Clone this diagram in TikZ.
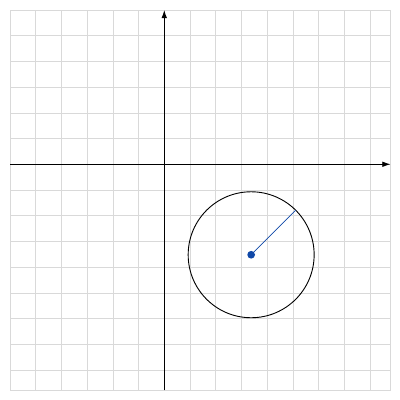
\documentclass[tikz,border=0pt]{standalone}
\usetikzlibrary{arrows.meta}

\definecolor{kreisblau}{RGB}{16,72,168}
\tikzset{
    gitter/.style = {draw=black!15, line width=0.6pt},
    achse/.style  = {line width=1pt, -{Latex[length=3.2mm, width=2.2mm]}},
}

\begin{document}
\begin{tikzpicture}
            \useasboundingbox (-6.39, -9.17) rectangle (9.17, 6.39);

            % Gitter
            \draw[gitter, step=1] (-6, -8.8) grid (8.8, 6);
            \draw[gitter] (-6, -8.8) rectangle (8.8, 6);

            % Kartesische Achsen
            \coordinate (xa) at (-6, 0);
            \coordinate (xe) at (8.8, 0);
            \coordinate (ya) at (0, -8.8);
            \coordinate (ye) at (0, 6);
            \draw[achse] (xa) -- (xe);
            \draw[achse] (ya) -- (ye);

            % Kreis um M
            \coordinate (M) at (3.38, -3.52);
            \draw[line width=1pt] (M) circle (2.45);

            % Radius
            \path (M) ++(45:2.45) coordinate (R);
            \draw[kreisblau, line width=0.9pt] (M) -- (R);
            \fill[kreisblau] (M) circle (0.15);
        \end{tikzpicture}
\end{document}
